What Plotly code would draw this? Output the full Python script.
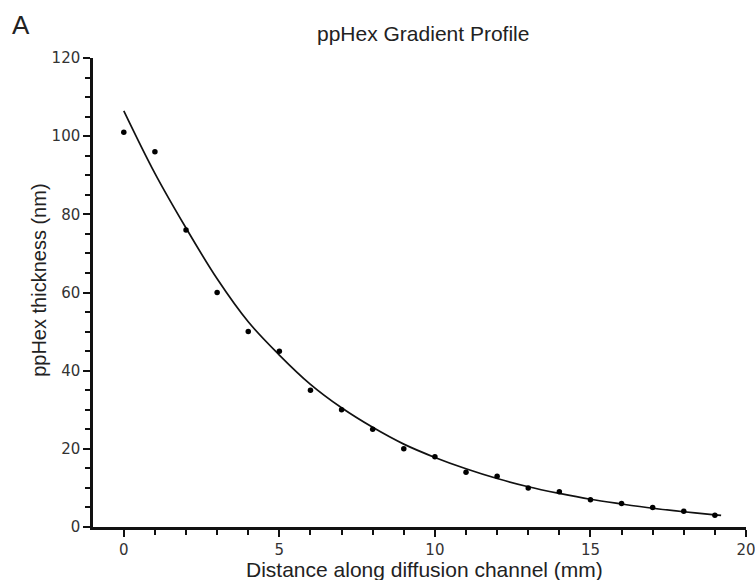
import plotly.graph_objects as go

# Measured points
distance_mm = [0, 1, 2, 3, 4, 5, 6, 7, 8, 9, 10, 11, 12, 13, 14, 15, 16, 17, 18, 19]
thickness_nm = [101, 96, 76, 60, 50, 45, 35, 30, 25, 20, 18, 14, 13, 10, 9, 7, 6, 5, 4, 3]

# Fitted curve
curve_x = [0, 1, 2, 3, 4, 5, 6, 7, 8, 9, 10, 11, 12, 13, 14, 15, 16, 17, 18, 19, 19.2]
curve_y = [106.5, 90.5, 76.5, 63.5, 52.5, 44.0, 36.5, 30.5, 25.5, 21.2, 17.8, 14.9,
           12.4, 10.3, 8.6, 7.1, 5.9, 4.8, 3.9, 3.1, 2.95]

x_ticks = [0, 5, 10, 15, 20]
y_ticks = [0, 20, 40, 60, 80, 100, 120]

fig = go.Figure()
fig.add_trace(go.Scatter(x=curve_x, y=curve_y, mode="lines",
                         line=dict(color="#111111", width=1.7, shape="spline"),
                         hoverinfo="skip", showlegend=False))
fig.add_trace(go.Scatter(x=distance_mm, y=thickness_nm, mode="markers",
                         marker=dict(color="#000000", size=5.5), showlegend=False))

tickfont = dict(family="DejaVu Sans", size=15, color="#333333")
fig.update_xaxes(range=[-0.99, 20], tickvals=x_ticks, ticks="outside", ticklen=7,
                 tickwidth=2, tickcolor="#111111", showline=True, linecolor="#111111",
                 linewidth=2.5, showgrid=False, zeroline=False, tickfont=tickfont,
                 ticklabeloverflow="allow", automargin=False,
                 minor=dict(tick0=0, dtick=1, ticks="outside", ticklen=5, tickwidth=2,
                            tickcolor="#111111", showgrid=False))
fig.update_yaxes(range=[0, 120], tickvals=y_ticks, ticks="outside", ticklen=7,
                 tickwidth=2, tickcolor="#111111", showline=True, linecolor="#111111",
                 linewidth=2.5, showgrid=False, zeroline=False, tickfont=tickfont,
                 ticklabeloverflow="allow", automargin=False,
                 minor=dict(tick0=0, dtick=5, ticks="outside", ticklen=5, tickwidth=2,
                            tickcolor="#111111", showgrid=False))

afont = "Liberation Sans, Arial, sans-serif"
fig.update_layout(
    width=755, height=580,
    margin=dict(l=93, r=9, t=58, b=53),
    paper_bgcolor="white", plot_bgcolor="white",
    annotations=[
        dict(text="ppHex Gradient Profile", xref="paper", yref="paper", x=0.505, y=1.053,
             showarrow=False, font=dict(family=afont, size=21, color="#222222"),
             xanchor="center", yanchor="middle"),
        dict(text="A", xref="paper", yref="paper", x=-0.110, y=1.070,
             showarrow=False, font=dict(family=afont, size=26, color="#222222"),
             xanchor="center", yanchor="middle"),
        dict(text="Distance along diffusion channel (mm)", xref="paper", yref="paper",
             x=0.508, y=-0.0896, showarrow=False,
             font=dict(family=afont, size=21, color="#222222"),
             xanchor="center", yanchor="middle"),
        dict(text="ppHex thickness (nm)", xref="paper", yref="paper",
             x=-0.0827, y=0.527, showarrow=False, textangle=-90,
             font=dict(family=afont, size=20, color="#222222"),
             xanchor="center", yanchor="middle"),
    ],
)

fig.write_html("out.html")
